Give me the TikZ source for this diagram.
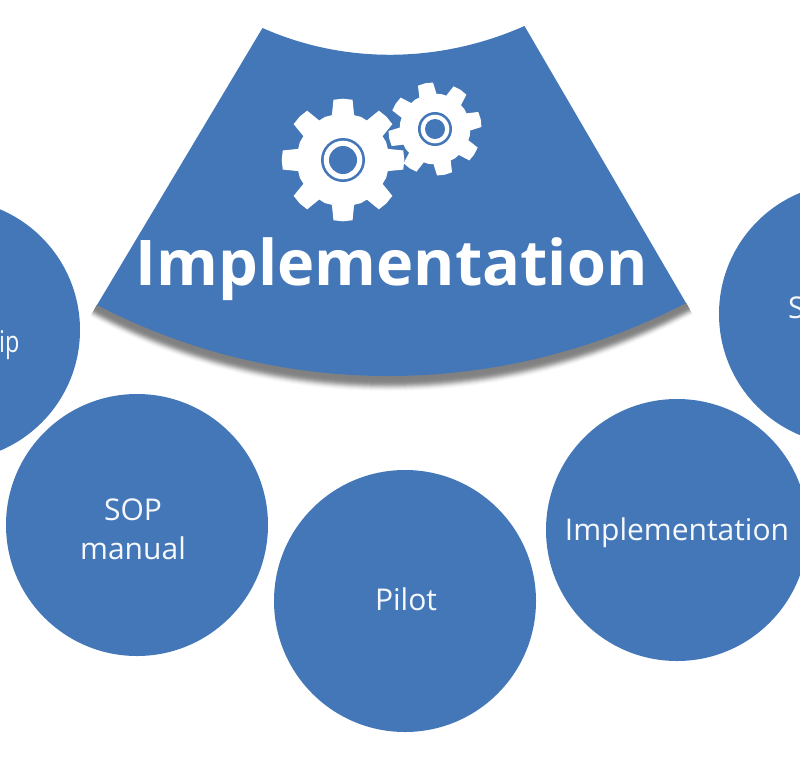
\documentclass[tikz,border=0pt]{standalone}
\usepackage{fontspec}
\setmainfont{Open Sans}
\definecolor{wedgeblue}{HTML}{4477B8}
\tikzset{
  disc/.style={circle,fill=wedgeblue,minimum size=262pt,inner sep=0pt},
  disclabel/.style={text=white!95!wedgeblue,font=\fontsize{30}{39}\selectfont,align=center,inner sep=0pt},
}
\usetikzlibrary{calc}
\newcommand{\gearshape}[6]{% cx cy ro rb rot tip half angle
  \fill[white] ($(#1,#2)+(#5-22.5:#4 and -#4)$)
   \foreach \a in {0,45,...,315} {
     -- ($(#1,#2)+(#5+\a-#6-5:#4 and -#4)$)
     -- ($(#1,#2)+(#5+\a-#6:#3 and -#3)$)
     -- ($(#1,#2)+(#5+\a:#3*1.005 and -#3*1.005)$)
     -- ($(#1,#2)+(#5+\a+#6:#3 and -#3)$)
     -- ($(#1,#2)+(#5+\a+#6+5:#4 and -#4)$)
     -- ($(#1,#2)+(#5+\a+11:#4*1.005 and -#4*1.005)$)
     -- ($(#1,#2)+(#5+\a+22.5:#4*1.015 and -#4*1.015)$)
     -- ($(#1,#2)+(#5+\a+34:#4*1.005 and -#4*1.005)$)
   } -- cycle;
}
\begin{document}
\begin{tikzpicture}[x=1pt,y=-1pt]
\useasboundingbox (0,0) rectangle (800,756);
\clip (0,0) rectangle (800,756);
% shadow under the wedge, cut off by the prolonged sides
\begin{scope}
  \clip (97,305) -- (73,345) -- (73,400) -- (712,400) -- (712,347) -- (686,303) -- cycle;
  \foreach \d/\o in {1/.5,2/.5,3/.5,4/.5,5/.5,6/.5,7/.45,8/.38,9/.32,10/.26,11/.2,12/.15,13/.1,14/.07,15/.05} {
    \fill[black!50,opacity=\o,yshift=-\d pt]
      (70,290) -- (97,305) .. controls (281.6,401) and (501.4,399) .. (686,303) -- (712,290) -- cycle;
  }
\end{scope}
% wedge
\fill[wedgeblue] (262.5,28) .. controls (346,65) and (441,63) .. (524.5,26)
  -- (686,303) .. controls (501.4,399) and (281.6,401) .. (97,305) -- cycle;
% gears
\gearshape{343}{160}{61}{46}{0}{9}
\fill[wedgeblue] (343,160) circle[radius=22];
\fill[white] (343,160) circle[radius=19.3];
\fill[wedgeblue] (343,160) circle[radius=14];
\gearshape{435}{129}{46.5}{35}{12}{9.5}
\fill[wedgeblue] (435,129) circle[radius=17];
\fill[white] (435,129) circle[radius=14.3];
\fill[wedgeblue] (435,129) circle[radius=10];
\node[text=white,inner sep=0pt,font=\fontsize{63}{72}\selectfont\bfseries] (title) at (391.5,269) {Implementation};
% circles
\node[disc] (c1) at (-51,330) {};
\node[disc] (c2) at (137,525) {};
\node[disc] (c3) at (405,601) {};
\node[disc] (c4) at (677,530) {};
\node[disc] (c5) at (850,314) {};
\node[disclabel,anchor=west] (t1) at (-1,345) {\scalebox{.78}[1]{ip}};
\node[disclabel] (t2) at (133,529) {SOP\\manual};
\node[disclabel] (t3) at (406,599) {Pilot};
\node[disclabel] (t4) at (677,533) {Implementation};
\node[disclabel,anchor=west] (t5) at (788,308) {S};
\end{tikzpicture}
\end{document}
